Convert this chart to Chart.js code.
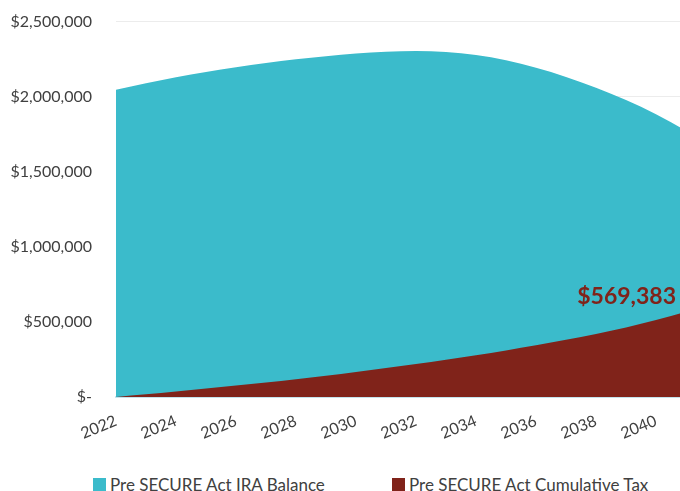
<!DOCTYPE html>
<html>
<head>
<meta charset="utf-8">
<script src="https://cdn.jsdelivr.net/npm/chart.js@4"></script>
<style>
  html, body { margin: 0; padding: 0; background: #fff; overflow: hidden; }
  #wrap { position: relative; width: 680px; height: 491px; overflow: hidden; }
  #chart-box { position: absolute; left: 0; top: 0; width: 686px; height: 457px; }
  .legend-item { position: absolute; top: 474px; display: flex; align-items: center;
                 font-family: Lato, sans-serif; font-size: 17px; color: #404040; }
  .legend-swatch { width: 13px; height: 13px; margin-right: 4px; }
</style>
</head>
<body>
<div id="wrap">
  <div id="chart-box"><canvas id="chart"></canvas></div>
  <div id="legend"></div>
</div>
<script>
// years on the axis
const years = [2022, 2023, 2024, 2025, 2026, 2027, 2028, 2029, 2030, 2031,
               2032, 2033, 2034, 2035, 2036, 2037, 2038, 2039, 2040, 2041];

// Pre SECURE Act IRA Balance
const iraBalance = [2047000, 2090000, 2130000, 2165000, 2196000, 2224000, 2249000, 2270000, 2287000, 2299000,
                    2304000, 2298000, 2277000, 2242000, 2193000, 2132000, 2060000, 1978000, 1884000, 1775000];

// Pre SECURE Act Cumulative Tax
const cumulativeTax = [2000, 20000, 39000, 58000, 78000, 98000, 120000, 144000, 169000, 195000,
                       222000, 250000, 280000, 312000, 346000, 383000, 422000, 465000, 514000, 569383];

const yTicks = [0, 500000, 1000000, 1500000, 2000000, 2500000];

const seriesNames = ['Pre SECURE Act IRA Balance', 'Pre SECURE Act Cumulative Tax'];
const seriesColors = ['#3bbbcb', '#80231a'];
const legendLeft = [93, 392];

const fmtMoney = v => v === 0 ? '$-' : '$' + v.toLocaleString('en-US');

// end-of-series value label
const endLabel = {
  id: 'endLabel',
  afterDatasetsDraw(chart) {
    const meta = chart.getDatasetMeta(1);
    const pt = meta.data[meta.data.length - 1];
    const ctx = chart.ctx;
    ctx.save();
    ctx.font = 'bold 23px Lato, sans-serif';
    ctx.fillStyle = seriesColors[1];
    ctx.textAlign = 'right';
    ctx.textBaseline = 'middle';
    ctx.fillText(fmtMoney(cumulativeTax[cumulativeTax.length - 1]), pt.x - 10, pt.y - 15);
    ctx.restore();
  }
};

Chart.defaults.font.family = 'Lato, sans-serif';
Chart.defaults.color = '#404040';

new Chart(document.getElementById('chart'), {
  type: 'line',
  data: {
    labels: years,
    datasets: [{
      label: seriesNames[0],
      data: iraBalance,
      backgroundColor: seriesColors[0],
      borderWidth: 0,
      pointRadius: 0,
      fill: 'origin',
      cubicInterpolationMode: 'monotone',
      order: 1
    }, {
      label: seriesNames[1],
      data: cumulativeTax,
      backgroundColor: seriesColors[1],
      borderWidth: 0,
      pointRadius: 0,
      fill: 'origin',
      cubicInterpolationMode: 'monotone',
      order: 0
    }]
  },
  options: {
    responsive: true,
    maintainAspectRatio: false,
    animation: false,
    layout: { padding: 0 },
    plugins: {
      legend: { display: false },
      tooltip: { enabled: false }
    },
    scales: {
      x: {
        afterFit: scale => { scale.paddingRight = 0; },
        grid: { display: false, drawTicks: false },
        border: { color: '#c9e7f1', width: 2 },
        ticks: {
          font: { size: 16 },
          minRotation: 22,
          maxRotation: 22,
          autoSkip: false,
          padding: 14,
          callback: function (val, i) { return i % 2 === 0 ? String(years[i]) : ''; }
        }
      },
      y: {
        min: 0,
        max: 2500000,
        afterBuildTicks: scale => { scale.ticks = yTicks.map(v => ({ value: v })); },
        afterFit: scale => { scale.width = 116; },
        grid: { color: '#ececec', drawTicks: true, tickLength: 12, tickColor: 'rgba(0,0,0,0)' },
        border: { display: false },
        ticks: {
          font: { size: 16 },
          padding: 12,
          callback: v => fmtMoney(v)
        }
      }
    }
  },
  plugins: [endLabel]
});

// legend
const legendEl = document.getElementById('legend');
seriesNames.forEach((name, i) => {
  const item = document.createElement('div');
  item.className = 'legend-item';
  item.style.left = legendLeft[i] + 'px';
  item.innerHTML = '<span class="legend-swatch" style="background:' + seriesColors[i] + '"></span>' + name;
  legendEl.appendChild(item);
});
</script>
</body>
</html>
